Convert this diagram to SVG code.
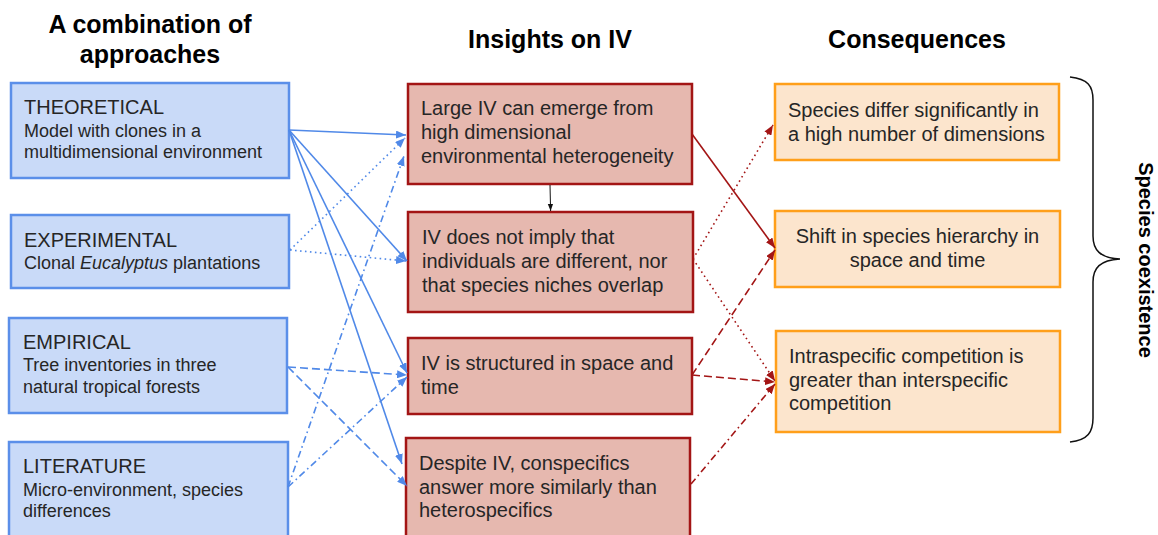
<svg xmlns="http://www.w3.org/2000/svg" width="1158" height="535" viewBox="0 0 1158 535">
  <style>
    text { font-family: "Liberation Sans", Arial, sans-serif; fill: #262626; }
    .head { font-size: 25px; font-weight: bold; fill: #000; text-anchor: middle; }
    .side { font-size: 20px; font-weight: bold; fill: #000; text-anchor: middle; }
    .ttl { font-size: 20px; }
    .sub { font-size: 18px; }
    .txt { font-size: 20px; }
    .mid { text-anchor: middle; }
    .approach { fill: #c9daf8; stroke: #5b8fe9; stroke-width: 2.5; }
    .insight { fill: #e6b8af; stroke: #a31515; stroke-width: 2.5; }
    .conseq { fill: #fce5cd; stroke: #ff9f1a; stroke-width: 2.5; }
    .blue { stroke: #5089e8; stroke-width: 1.6; fill: none; marker-end: url(#ahBlue); }
    .red { stroke: #a31515; stroke-width: 1.6; fill: none; marker-end: url(#ahRed); }
    .dot { stroke-dasharray: 1.6 3.4; }
    .dash { stroke-dasharray: 8 4; }
    .dashdot { stroke-dasharray: 7 3.5 1.6 3.5; }
  </style>
  <defs>
    <marker id="ahBlue" viewBox="0 0 10 8" refX="10" refY="4" markerWidth="10" markerHeight="8" markerUnits="userSpaceOnUse" orient="auto">
      <path d="M0,0 L10,4 L0,8 Z" fill="#5089e8"/>
    </marker>
    <marker id="ahRed" viewBox="0 0 10 8" refX="10" refY="4" markerWidth="10" markerHeight="8" markerUnits="userSpaceOnUse" orient="auto">
      <path d="M0,0 L10,4 L0,8 Z" fill="#a31515"/>
    </marker>
    <marker id="ahBlack" viewBox="0 0 8 6" refX="8" refY="3" markerWidth="7" markerHeight="6" markerUnits="userSpaceOnUse" orient="auto">
      <path d="M0,0 L8,3 L0,6 Z" fill="#111"/>
    </marker>
  </defs>

  <rect width="1158" height="535" fill="#fff"/>

  <!-- column headings -->
  <g id="headings">
    <text class="head" x="150" y="33">A combination of</text>
    <text class="head" x="150" y="63">approaches</text>
    <text class="head" x="550" y="48">Insights on IV</text>
    <text class="head" x="917" y="48">Consequences</text>
  </g>

  <!-- approaches -->
  <g id="theoretical">
    <rect class="approach" x="11" y="83" width="278" height="95"/>
    <text class="ttl" x="24" y="114">THEORETICAL</text>
    <text class="sub" x="24" y="137">Model with clones in a</text>
    <text class="sub" x="24" y="158">multidimensional environment</text>
  </g>
  <g id="experimental">
    <rect class="approach" x="11" y="215" width="278" height="73"/>
    <text class="ttl" x="24" y="247">EXPERIMENTAL</text>
    <text class="sub" x="24" y="269">Clonal <tspan font-style="italic">Eucalyptus</tspan> plantations</text>
  </g>
  <g id="empirical">
    <rect class="approach" x="9" y="318" width="278" height="95"/>
    <text class="ttl" x="23" y="349">EMPIRICAL</text>
    <text class="sub" x="23" y="371">Tree inventories in three</text>
    <text class="sub" x="23" y="393">natural tropical forests</text>
  </g>
  <g id="literature">
    <rect class="approach" x="9" y="442" width="279" height="110"/>
    <text class="ttl" x="23" y="473">LITERATURE</text>
    <text class="sub" x="23" y="496">Micro-environment, species</text>
    <text class="sub" x="23" y="517">differences</text>
  </g>

  <!-- insights -->
  <g id="large-iv">
    <rect class="insight" x="408" y="84" width="284" height="100"/>
    <text class="txt" x="421" y="115">Large IV can emerge from</text>
    <text class="txt" x="421" y="139">high dimensional</text>
    <text class="txt" x="421" y="163">environmental heterogeneity</text>
  </g>
  <g id="iv-not-imply">
    <rect class="insight" x="408" y="212" width="285" height="100"/>
    <text class="txt" x="422" y="244">IV does not imply that</text>
    <text class="txt" x="422" y="268">individuals are different, nor</text>
    <text class="txt" x="422" y="292">that species niches overlap</text>
  </g>
  <g id="iv-structured">
    <rect class="insight" x="408" y="338" width="284" height="76"/>
    <text class="txt" x="421" y="370">IV is structured in space and</text>
    <text class="txt" x="421" y="394">time</text>
  </g>
  <g id="despite-iv">
    <rect class="insight" x="406" y="438" width="284" height="114"/>
    <text class="txt" x="419" y="470">Despite IV, conspecifics</text>
    <text class="txt" x="419" y="494">answer more similarly than</text>
    <text class="txt" x="419" y="517">heterospecifics</text>
  </g>

  <!-- consequences -->
  <g id="species-differ">
    <rect class="conseq" x="775" y="84" width="284" height="76"/>
    <text class="txt" x="788" y="117">Species differ significantly in</text>
    <text class="txt" x="788" y="141">a high number of dimensions</text>
  </g>
  <g id="hierarchy-shift">
    <rect class="conseq" x="775" y="211" width="285" height="76"/>
    <text class="txt mid" x="917.5" y="243">Shift in species hierarchy in</text>
    <text class="txt mid" x="917.5" y="267">space and time</text>
  </g>
  <g id="intraspecific">
    <rect class="conseq" x="776" y="331" width="284" height="101"/>
    <text class="txt" x="789" y="363">Intraspecific competition is</text>
    <text class="txt" x="789" y="387">greater than interspecific</text>
    <text class="txt" x="789" y="410">competition</text>
  </g>

  <!-- brace grouping the consequences -->
  <g id="coexistence">
    <path d="M1070,77 C1088,79 1093,86 1093,100 L1093,236 C1093,250 1100,258 1120,259 C1100,260 1093,268 1093,282 L1093,418 C1093,432 1088,440 1070,442" fill="none" stroke="#111" stroke-width="1.5"/>
    <text class="side" transform="translate(1139,260) rotate(90)">Species coexistence</text>
  </g>

  <!-- connectors -->
  <g id="connectors">
    <line class="blue" x1="289" y1="130" x2="406" y2="135"/>
    <line class="blue" x1="289" y1="130" x2="407" y2="261"/>
    <line class="blue" x1="289" y1="130" x2="407" y2="373"/>
    <line class="blue" x1="289" y1="130" x2="402" y2="464"/>
    <line class="blue dot" x1="290" y1="250" x2="405" y2="138"/>
    <line class="blue dot" x1="290" y1="250" x2="406" y2="261"/>
    <line class="blue dash" x1="288" y1="367" x2="407" y2="375"/>
    <line class="blue dash" x1="288" y1="367" x2="407" y2="486"/>
    <line class="blue dashdot" x1="288" y1="487" x2="404" y2="156"/>
    <line class="blue dashdot" x1="288" y1="487" x2="407" y2="377"/>

    <line class="red" x1="692" y1="134" x2="775" y2="248"/>
    <line class="red dot" x1="693" y1="259" x2="773" y2="125"/>
    <line class="red dot" x1="693" y1="259" x2="775" y2="381"/>
    <line class="red dash" x1="692" y1="375" x2="775" y2="250"/>
    <line class="red dash" x1="692" y1="375" x2="775" y2="382"/>
    <line class="red dashdot" x1="691" y1="484" x2="775" y2="384"/>

    <line x1="550" y1="185" x2="550.6" y2="211" stroke="#111" stroke-width="1" marker-end="url(#ahBlack)"/>
  </g>
</svg>
